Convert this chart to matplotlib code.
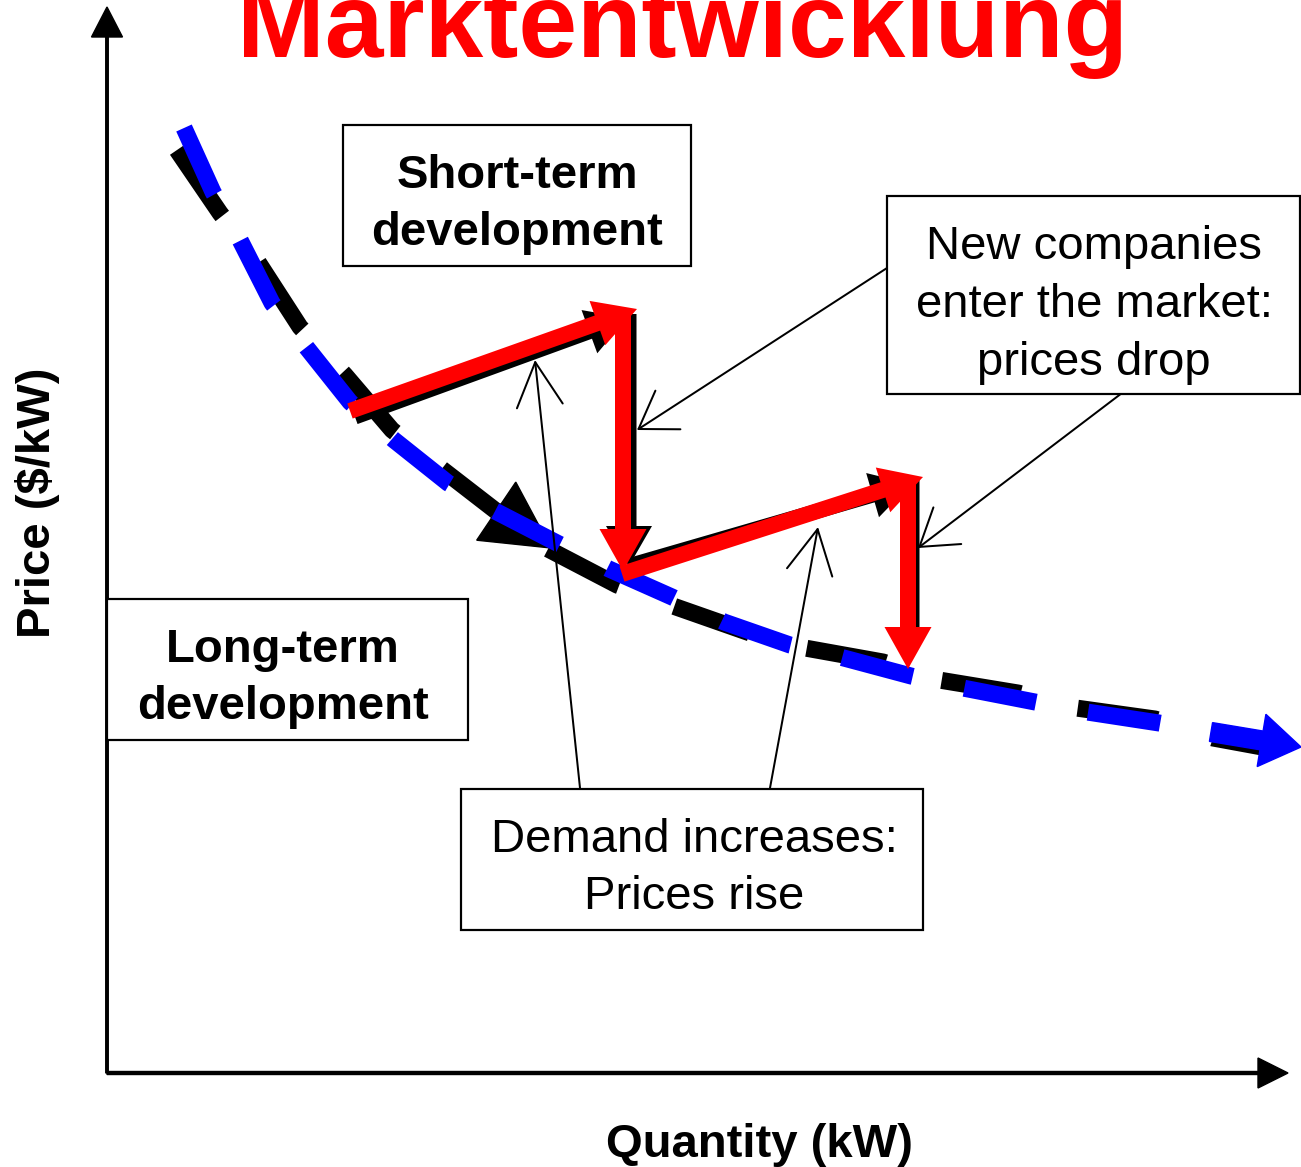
import matplotlib.pyplot as plt
from matplotlib.patches import FancyArrow, FancyArrowPatch, Rectangle

PT = 0.72  # 1 px at dpi 100, in points
FONT = "Liberation Sans"

# long-term curve (blue dashes), pixel positions
blue_x = [184, 213, 240, 272, 307, 350, 394, 448, 495, 557, 609, 672,
          724, 790, 840, 911, 963, 1035, 1087, 1159, 1211]
blue_y = [128, 192, 240, 303, 348, 402, 440, 483, 511, 543, 569, 597,
          622, 645, 657, 676, 688, 702, 712, 723, 732]
blue_tip = (1301, 747)

# black curve drawn underneath, upper part ends in an arrow head
black_upper_x = [177, 220, 258, 300, 345, 392, 443, 496]
black_upper_y = [150, 213, 262, 327, 375, 430, 470, 511]
black_tip = (551, 548)
black_lower_x = [548, 617, 673, 750, 805, 883, 939, 1018, 1076, 1155, 1213, 1262]
black_lower_y = [549, 585, 606, 633, 648, 662, 680, 693, 708, 719, 738, 747]

# short-term steps: (start, end)
red_steps = [((350, 411), (637, 309)),
             ((623, 308), (623, 571)),
             ((622, 574), (923, 477)),
             ((908, 476), (908, 669))]
# black copies behind the red steps: (start, end, head width, head length)
shadow_steps = [((355, 417), (627, 318), 46, 40),
                ((629, 314), (629, 566), 46, 40),
                ((628, 566), (911, 484), 46, 40),
                ((912, 480), (912, 628), 15, 1)]

# thin pointers from the boxes: (tail, tip, head length px, head half width px)
pointers = [((580, 788), (535, 360), 44, 23),
            ((770, 788), (818, 527), 44, 23),
            ((887, 268), (637, 430), 35, 23),
            ((1122, 393), (918, 548), 35, 23)]

title = "Marktentwicklung"
x_label = "Quantity (kW)"
y_label = "Price ($/kW)"

# boxes: (left, top, width, height, lines, line baselines, center x, bold)
boxes = [
    (343, 125, 348, 141, ["Short-term", "development"], [188, 245], 517, True),
    (107, 599, 361, 141, ["Long-term", "development"], [662, 719], 283, True),
    (887, 196, 413, 198, ["New companies", "enter the market:", "prices drop"],
     [259, 317, 375], 1094, False),
    (461, 789, 462, 141, ["Demand increases:", "Prices rise"], [852, 909], 694, False),
]


def main():
    fig = plt.figure(figsize=(13.01, 11.67), dpi=100)
    ax = fig.add_axes([0, 0, 1, 1])
    ax.set_xlim(0, 1301)
    ax.set_ylim(1167, 0)
    ax.axis("off")

    # axes with arrow heads
    ax.add_patch(FancyArrow(107, 1073, 0, 7 - 1073, width=2.5, head_width=31,
                            head_length=30, length_includes_head=True,
                            color="black", zorder=1))
    ax.add_patch(FancyArrow(107, 1073, 1288 - 107, 0, width=3, head_width=30,
                            head_length=30, length_includes_head=True,
                            color="black", zorder=1))

    lw = 17
    # black curve
    ax.plot(black_upper_x, black_upper_y, color="black", lw=lw * PT,
            dashes=(80 / lw, 59 / lw), dash_capstyle="butt", zorder=2)
    bx, by = black_upper_x[-1], black_upper_y[-1]
    ax.add_patch(FancyArrow(bx, by, black_tip[0] - bx, black_tip[1] - by,
                            width=lw, head_width=70, head_length=66,
                            length_includes_head=True, color="black", zorder=2))
    ax.plot(black_lower_x, black_lower_y, color="black", lw=lw * PT,
            dashes=(80 / lw, 59 / lw), dash_capstyle="butt", zorder=2)

    # blue curve
    ax.plot(blue_x, blue_y, color="#0000FF", lw=lw * PT,
            dashes=(73 / lw, 53 / lw), dash_capstyle="butt", zorder=3)
    ex, ey = blue_x[-1], blue_y[-1]
    ax.add_patch(FancyArrow(ex, ey, blue_tip[0] - ex, blue_tip[1] - ey,
                            width=19, head_width=53, head_length=40,
                            length_includes_head=True, color="#0000FF", zorder=3))

    # short-term steps
    for (x0, y0), (x1, y1), hw, hl in shadow_steps:
        ax.add_patch(FancyArrow(x0, y0, x1 - x0, y1 - y0, width=15, head_width=hw,
                                head_length=hl, length_includes_head=True,
                                color="black", lw=0, zorder=4))
    for (x0, y0), (x1, y1) in red_steps:
        ax.add_patch(FancyArrow(x0, y0, x1 - x0, y1 - y0, width=16, head_width=47,
                                head_length=42, length_includes_head=True,
                                color="#FF0000", lw=0, zorder=5))

    # pointers
    for tail, tip, hl, hw in pointers:
        style = f"->,head_length={hl * PT},head_width={hw * PT}"
        ax.add_patch(FancyArrowPatch(tail, tip, arrowstyle=style, mutation_scale=1,
                                     shrinkA=0, shrinkB=0, color="black",
                                     lw=2 * PT, zorder=6))

    # boxes
    for left, top, w, h, lines, bases, cx, bold in boxes:
        ax.add_patch(Rectangle((left, top), w, h, facecolor="white",
                               edgecolor="black", lw=2.2 * PT, zorder=7))
        for line, base in zip(lines, bases):
            ax.text(cx, base, line, ha="center", va="baseline", fontsize=34,
                    family=FONT, fontweight="bold" if bold else "normal",
                    zorder=8)

    # the title runs off the top edge, as in the original slide
    ax.text(683, 57, title, ha="center", va="baseline", fontsize=76,
            family=FONT, fontweight="bold", color="#FF0000", zorder=8)
    ax.text(759, 1157, x_label, ha="center", va="baseline", fontsize=34,
            family=FONT, fontweight="bold")
    ax.text(50, 503, y_label, ha="center", va="baseline", fontsize=34,
            family=FONT, fontweight="bold", rotation=90, rotation_mode="anchor")

    fig.savefig("out.png", dpi=100)


if __name__ == "__main__":
    main()
